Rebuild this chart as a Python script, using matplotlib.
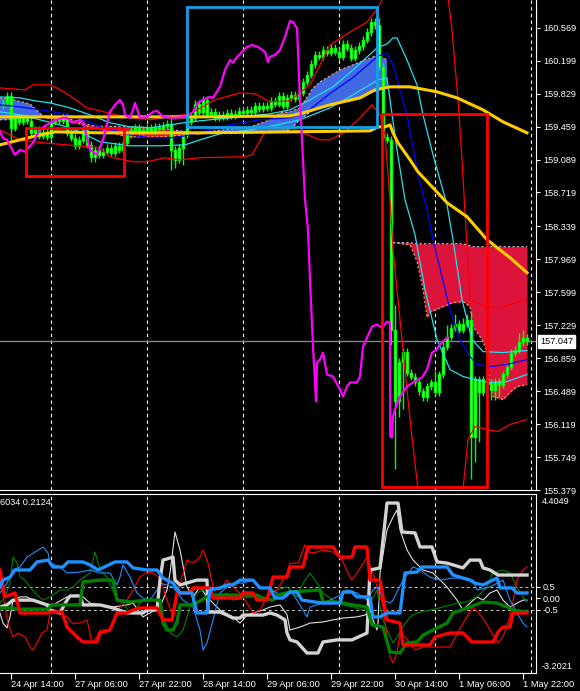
import numpy as np
import matplotlib.pyplot as plt
from matplotlib.patches import Rectangle
from matplotlib.transforms import blended_transform_factory

plt.rcParams['font.family'] = ['Liberation Sans', 'DejaVu Sans']

# H1 bars, bar 0 = 24 Apr 14:00
time_ticks = [0, 16, 32, 48, 64, 80, 96, 112, 128]
time_labels = ['24 Apr 14:00', '27 Apr 06:00', '27 Apr 22:00', '28 Apr 14:00', '29 Apr 06:00',
               '29 Apr 22:00', '30 Apr 14:00', '1 May 06:00', '1 May 22:00']
day_separators = [10, 34, 58, 82, 106, 130]

price_labels = ['160.569', '160.199', '159.829', '159.459', '159.089', '158.719', '158.339', '157.969',
                '157.599', '157.229', '156.859', '156.489', '156.119', '155.749', '155.379']
bid = 157.047
first_open = 159.70

closes = [159.725, 159.804, 159.445, 159.557, 159.512, 159.557, 159.523, 159.389, 159.422, 159.355,
          159.400, 159.344, 159.512, 159.546, 159.523, 159.568, 159.389, 159.333, 159.243, 159.310,
          159.422, 159.254, 159.120, 159.198, 159.142, 159.176, 159.221, 159.165, 159.243, 159.198,
          159.277, 159.366, 159.422, 159.445, 159.400, 159.422, 159.445, 159.411, 159.456, 159.434,
          159.467, 159.489, 159.198, 159.086, 159.221, 159.366, 159.512, 159.557, 159.714, 159.624,
          159.759, 159.602, 159.624, 159.557, 159.591, 159.568, 159.613, 159.579, 159.602, 159.636,
          159.613, 159.647, 159.624, 159.692, 159.658, 159.692, 159.669, 159.748, 159.714, 159.804,
          159.692, 159.781, 159.815, 159.770, 159.837, 159.961, 160.039, 160.162, 160.263, 160.241,
          160.319, 160.286, 160.342, 160.297, 160.241, 160.387, 160.342, 160.230, 160.319, 160.364,
          160.432, 160.521, 160.633, 160.600, 160.129, 159.344, 159.310, 157.180, 156.373, 156.821,
          156.933, 156.698, 156.653, 156.586, 156.485, 156.418, 156.541, 156.586, 156.474, 156.676,
          156.989, 157.102, 157.202, 157.247, 157.180, 157.247, 157.292, 155.969, 156.620, 156.474,
          156.620, 156.586, 156.507, 156.597, 156.563, 156.676, 156.765, 156.922, 156.956, 157.035,
          157.090, 157.047]
wick_high = {40: 159.557, 92: 160.68, 96: 157.46, 106: 156.71, 108: 157.068, 109: 157.236,
             111: 157.35, 113: 157.315, 114: 157.35, 115: 157.382, 127: 157.147, 128: 157.18}
wick_low = {0: 159.31, 20: 159.064, 21: 159.064, 40: 158.974, 41: 158.996, 43: 159.03,
            95: 157.012, 96: 155.61, 97: 156.194, 98: 156.283, 115: 155.498, 116: 155.689,
            117: 155.913, 120: 156.395, 121: 156.395, 122: 156.418}

# moving averages / bands, (bar, price)
ma_slow = [(-2.75, 159.568), (22.25, 159.568), (47.25, 159.568), (69.75, 159.579), (73, 159.613),
           (79.75, 159.703), (87.25, 159.781), (91, 159.871), (94.75, 159.905), (99.75, 159.905),
           (106.5, 159.849), (111.5, 159.781), (118, 159.647), (123, 159.512), (129, 159.389)]
ma_mid = [(-2.75, 159.254), (2.25, 159.310), (7.25, 159.366), (11, 159.400), (22.25, 159.389),
          (47.25, 159.389), (69.75, 159.400), (89.75, 159.411), (91.75, 159.456), (93.5, 159.456),
          (94.75, 159.478), (95.5, 159.389), (96.75, 159.277), (99.75, 159.086), (101.75, 158.951),
          (109, 158.604), (114, 158.447), (119, 158.189), (124.75, 157.987), (129, 157.819)]
bb_upper = [(-2.75, 159.893), (3.5, 159.871), (5.5, 159.927), (9.75, 159.927), (11.5, 159.893),
            (14.75, 159.804), (19, 159.669), (22.25, 159.636), (27.25, 159.579), (34.75, 159.535),
            (41, 159.579), (44.75, 159.602), (51, 159.759), (57.25, 159.837), (61, 159.826),
            (64.75, 159.736), (69.75, 159.748), (74.75, 159.927), (79.75, 160.375), (84.75, 160.521),
            (89, 160.633), (91.75, 160.790), (94, 161.0), (109, 161.0), (110.25, 160.544),
            (111.75, 159.759), (112.75, 159.086), (113.75, 158.301), (114.75, 157.516),
            (118.5, 157.438), (122.25, 157.427), (124.75, 157.460), (129, 157.516)]
bb_lower = [(-2.75, 159.422), (2.25, 159.310), (8, 159.277), (22.25, 159.221), (24.75, 159.120),
            (30.5, 159.064), (34, 159.064), (38.5, 159.109), (42.25, 159.086), (47.25, 159.109),
            (58, 159.120), (60.25, 159.142), (64, 159.445), (69.75, 159.445), (73, 159.389),
            (77.25, 159.310), (79.75, 159.310), (83.5, 159.400), (87.25, 159.557), (90.25, 159.703),
            (92.25, 159.591), (93.5, 159.366), (94.75, 158.638), (95.5, 158.077), (97.25, 157.292),
            (99.75, 156.171), (101.75, 155.386), (103.5, 155.05), (111, 155.05), (113, 155.386),
            (113.5, 155.610), (114.25, 155.947), (116, 156.092), (119, 156.059), (121.75, 156.036),
            (124.75, 156.115), (129, 156.171)]
env_upper = [(-2.75, 159.792), (2.25, 159.781), (6, 159.748), (9.75, 159.725), (14.75, 159.669),
             (19.75, 159.591), (24.75, 159.501), (29.75, 159.456), (34.75, 159.445), (39.75, 159.478),
             (44.75, 159.512), (49.75, 159.535), (54.75, 159.557), (59.75, 159.579), (64.75, 159.602),
             (69.75, 159.647), (74.75, 159.759), (80.5, 159.905), (85.5, 160.095), (91.5, 160.342),
             (94, 160.387), (95.5, 160.454), (96.5, 160.454), (99, 160.207), (101.5, 159.927),
             (103, 159.591), (105.5, 159.142), (109, 158.582), (110.5, 158.189), (112.75, 157.516),
             (115.25, 157.068), (118, 156.933), (123, 156.922), (129, 156.945)]
env_mid = [(-2.75, 159.703), (2.25, 159.680), (7.25, 159.647), (12.25, 159.613), (17.25, 159.557),
           (22.25, 159.456), (29.75, 159.366), (34.75, 159.333), (41, 159.333), (47.25, 159.389),
           (54.75, 159.478), (62.25, 159.535), (69.75, 159.557), (74, 159.624), (79.75, 159.830),
           (85.5, 160.010), (91.75, 160.250), (94, 160.286), (95.5, 160.151), (99, 159.591),
           (101.75, 158.918), (104, 158.526), (105.5, 158.189), (109.75, 157.404), (112.25, 157.068),
           (114.75, 156.877), (116.5, 156.788), (119.75, 156.765), (124, 156.788), (129, 156.844)]
env_lower = [(-2.75, 159.624), (2.25, 159.591), (7.25, 159.535), (12.25, 159.478), (17.25, 159.400),
             (22.25, 159.288), (29.75, 159.243), (37.25, 159.243), (43.5, 159.254), (47.25, 159.310),
             (52.25, 159.378), (59.75, 159.422), (66.5, 159.478), (72.25, 159.535), (79.75, 159.669),
             (85.5, 159.815), (91.75, 159.983), (94, 160.005), (94.75, 159.759), (96.5, 159.198),
             (98.5, 158.638), (101, 158.245), (103.5, 157.629), (106.5, 157.068), (109.75, 156.732),
             (113, 156.653), (119.25, 156.586), (124, 156.597), (129, 156.676)]

# cloud
cloud_x = [-2.75, -0.25, 4.75, 8.5, 13.5, 20.5, 29, 37.25, 47.25, 51, 59.75, 64.75, 67.25, 69.75,
           72.25, 75.5, 77.25, 82.25, 87.25, 91.75, 94]
span_a = [159.781, 159.770, 159.714, 159.557, 159.535, 159.445, 159.344, 159.344, 159.378, 159.411,
          159.456, 159.535, 159.613, 159.624, 159.669, 159.893, 159.961, 160.095, 160.185, 160.263, 160.207]
span_b = [159.535, 159.535, 159.546, 159.579, 159.557, 159.467, 159.456, 159.445, 159.378, 159.389,
          159.389, 159.389, 159.400, 159.422, 159.535, 159.647, 159.680, 159.736, 159.792, 159.871, 159.893]
cloud2_x = [95.5, 99.75, 101.5, 103, 104, 105, 108, 110.5, 113, 114.75, 115.5, 117.75, 119, 119.75,
            120.5, 123, 124.75, 126.5, 129]
span2_a = [158.156, 158.133, 157.943, 157.629, 157.315, 157.382, 157.438, 157.483, 157.494, 157.438,
           157.214, 157.068, 156.933, 156.541, 156.429, 156.395, 156.474, 156.541, 156.563]
span2_b = [158.156, 158.156, 158.144, 158.144, 158.144, 158.144, 158.144, 158.144, 158.144, 158.122,
           158.111, 158.111, 158.111, 158.111, 158.111, 158.111, 158.111, 158.111, 158.111]

osc_line = [(-2.75, 159.400), (-2, 159.333), (-1, 159.310), (1, 159.142), (2.25, 159.198), (3.5, 159.176),
            (5.5, 159.277), (6.5, 159.366), (7.75, 159.445), (9, 159.478), (10.25, 159.512),
            (11.5, 159.535), (13, 159.557), (14, 159.557), (15.25, 159.501), (17.25, 159.535),
            (18, 159.512), (19.75, 159.198), (21.5, 159.142), (23, 159.310), (24.75, 159.624),
            (26, 159.703), (27.25, 159.759), (28, 159.703), (28.5, 159.591), (29.75, 159.557),
            (30.5, 159.647), (31, 159.725), (31.75, 159.624), (32.25, 159.557), (34, 159.568),
            (35.5, 159.624), (36.5, 159.636), (38, 159.568), (40.5, 159.557), (44, 159.568),
            (45.5, 159.624), (46.75, 159.725), (48, 159.759), (49.75, 159.792), (50.5, 159.781),
            (52.25, 159.905), (53.5, 160.095), (54.75, 160.207), (55.5, 160.174), (56.5, 160.241),
            (57.75, 160.297), (59, 160.353), (60.25, 160.375), (61.75, 160.353), (63.5, 160.297),
            (64.25, 160.185), (64.75, 160.241), (66, 160.263), (67.25, 160.319), (68.5, 160.465),
            (69.75, 160.645), (70.5, 160.633), (71.5, 160.566), (72.25, 159.759), (73.5, 158.638),
            (74.25, 158.301), (74.75, 157.741), (75.5, 156.989), (76, 156.586), (76.25, 156.373),
            (76.5, 156.810), (77.25, 156.844), (78, 156.922), (79, 156.676), (80.5, 156.653),
            (82.25, 156.507), (83, 156.429), (84, 156.541), (84.75, 156.586), (86.5, 156.586),
            (87.25, 156.653), (88, 156.989), (90.25, 157.214), (91.5, 157.236), (92.75, 157.202),
            (94, 157.270), (94.75, 157.259), (94.8, 155.980), (95.25, 155.969), (95.5, 156.205),
            (96, 156.283), (97.25, 156.429), (99, 156.541), (100.5, 156.586), (102.75, 156.642),
            (104, 156.732), (105.25, 156.922), (106.5, 156.956), (107.25, 157.012), (108.5, 157.068),
            (109.25, 157.090)]

# boxes: bar from, bar to, price low, price high
box_red1 = (3.75, 28.25, 158.907, 159.445)
box_blue = (44.0, 91.5, 159.456, 160.80)
box_red2 = (92.75, 119.0, 155.41, 159.602)

# sub-window
sub_top, sub_bottom = 4.4049, -3.2021
blue_slow = [(-2.75, 0.50), (-2, 0.80), (-0.25, 0.93), (1, 1.24), (4.75, 1.24), (6.5, 1.59), (9.25, 1.67),
             (10.5, 1.37), (13, 1.37), (14.25, 1.59), (18, 1.59), (19.75, 1.46), (21.75, 1.24), (26, 1.59),
             (29, 1.59), (30.5, 1.33), (34, 1.24), (36.5, 1.24), (38, 0.89), (40.5, 0.67), (42.25, 0.24),
             (45.25, 0.24), (46.5, -0.63), (49, -0.63), (49.75, 0.37), (52.25, 0.46), (54, 0.59),
             (55.5, 0.59), (57.25, 0.80), (60.5, 0.80), (62.25, 0.46), (64.75, 0.46), (66, 0.02),
             (68, 0.02), (69.75, 0.28), (71.5, 0.28), (72.75, -0.07), (78, -0.20), (82.25, -0.20),
             (83, 0.28), (85.25, 0.28), (86.5, 0.07), (89.75, 0.07), (90.5, -0.80), (92.25, -0.80),
             (94, -0.63), (97.25, -0.63), (98.5, 1.11), (101.5, 1.15), (102.75, 1.37), (109, 1.37),
             (110.5, 1.02), (113, 0.89), (114.75, 0.80), (116, 0.67), (118, 0.59), (121.5, 0.89),
             (122.25, 0.46), (125.25, 0.46), (126.5, 0.24), (129, 0.24)]
red_slow = [(-2.75, 1.24), (-2, 0.50), (-1.5, 0.07), (1, 0.24), (1.75, -0.28), (2.25, -0.63), (9, -0.63),
            (9.75, -0.59), (12.75, -0.59), (14, -1.24), (14.75, -1.37), (16.5, -1.67), (18, -1.89),
            (21.5, -1.89), (22.25, -1.50), (24.75, -1.37), (26.5, -0.63), (29, -0.63), (30.5, -0.50),
            (32.25, -0.41), (36.5, -0.41), (38, -0.93), (40.25, -0.93), (41.5, 0.24), (44.75, 0.24),
            (45.5, 0.46), (49.75, 0.46), (50.5, 0.02), (57.25, 0.02), (58, 0.24), (60.5, 0.24),
            (61.5, -0.07), (64, -0.07), (64.75, 0.46), (65.5, 0.93), (69, 0.93), (69.75, 1.37),
            (73, 1.37), (74.25, 2.24), (80.5, 2.24), (82.25, 1.80), (85.25, 1.80), (86, 2.24),
            (89, 2.24), (89.75, 0.80), (92.25, 0.80), (94, -0.93), (97.25, -1.07), (98, -2.02),
            (104.75, -2.02), (106, -1.67), (109.75, -1.50), (113, -1.50), (115.25, -1.89),
            (120.5, -1.89), (121.75, -1.46), (123, -1.24), (124.75, -1.24), (125.5, -0.63), (129, -0.63)]
green_slow = [(-2.75, -0.41), (0.25, -0.41), (1.5, -0.46), (9.25, -0.46), (10.25, -0.28), (17.25, -0.28),
              (18, 0.72), (22.25, 0.80), (25.5, 0.80), (26.5, -0.07), (29.75, -0.15), (34, -0.07),
              (37.25, -0.07), (38, -1.07), (39, -1.37), (40.5, -1.37), (41.5, -1.02), (42.25, -0.28),
              (45.5, -0.28), (49.75, 0.15), (61.5, 0.15), (63, 0.02), (65.5, -0.07), (66.5, 0.15),
              (69.75, 0.28), (77.25, 0.37), (78, -0.15), (81.5, -0.15), (85.5, -0.28), (89, -0.37),
              (90.25, -1.15), (93, -1.24), (94.75, -2.33), (97.25, -2.37), (99, -1.93), (101.5, -1.89),
              (103, -1.59), (105.5, -1.37), (109, -1.07), (110.5, -0.63), (114.75, -0.37), (118, -0.15),
              (121.5, -0.20), (124, -0.37), (125.5, -0.50), (129, -0.59)]
white_slow = [(-2.75, -0.37), (-1, -0.28), (0.5, -0.07), (5.5, -0.07), (9, -0.28), (9.75, -0.50),
              (12.25, -0.63), (14, -0.07), (14.75, 0.11), (17.25, 0.11), (18, -0.28), (22.25, -0.28),
              (25.5, -0.41), (29, -0.63), (33, -0.63), (34, -0.50), (36.5, -0.50), (37.25, 0.80),
              (38, 1.67), (40.5, 1.80), (41, 0.80), (42.25, 0.59), (46.5, 0.80), (49, 0.80),
              (49.25, -0.59), (52.25, -0.59), (54, -0.72), (55.5, -0.85), (57.25, -0.85), (58, -0.72),
              (63, -0.72), (64.75, -0.63), (66.5, -0.72), (68.5, -0.93), (69, -1.50), (69.75, -1.80),
              (71.5, -1.89), (74, -2.37), (76.75, -2.37), (78, -1.89), (81.5, -1.80), (85.25, -1.80),
              (89, -1.50), (89.75, 1.24), (92.25, 1.33), (94, 4.15), (96.75, 4.15), (97.75, 2.89),
              (101, 2.85), (102.25, 2.24), (105.25, 2.24), (106.5, 1.59), (109, 1.54), (113, 1.33),
              (114.75, 1.67), (117.25, 1.67), (118, 1.33), (119.75, 1.24), (121.75, 1.02), (129, 1.02)]
blue_fast = [(-2.75, 0.24), (-1, 0.67), (0.5, 1.24), (2.25, 1.37), (4, 1.80), (6, 2.02), (8, 2.24),
             (9.25, 1.98), (9.75, 1.54), (12.25, 1.37), (14, 1.11), (17.25, 1.15), (19.75, 1.24),
             (22.25, 1.11), (24.75, 1.11), (26.5, 0.59), (27.25, 0.93), (28, 1.46), (29.75, 0.93),
             (31.5, 0.24), (33, 0.02), (34.75, -0.07), (36.5, 0.37), (37.25, 0.67), (40.5, 0.50),
             (43, -0.07), (45.5, -0.37), (47.25, -1.37), (48, -2.24), (49, -1.93), (50.5, -0.93),
             (52.25, 0.24), (54, 0.50), (55.5, 0.67), (58, 0.67), (60.5, 0.80), (62.25, 0.50),
             (64, 0.46), (66.5, 0.24), (69, 0.07), (69.75, 0.37), (71.5, -0.07), (74, -0.80),
             (74.75, -0.37), (78, -0.20), (81.5, 0.07), (84, 0.37), (86.5, 0.24), (89, -0.07),
             (90.5, 0.37), (91.75, 0.50), (93, -0.07), (94.75, -0.20), (95.5, -0.07), (96.75, 0.37),
             (98, 0.80), (100.5, 1.37), (102.25, 1.24), (104.75, 0.93), (107.25, 0.80), (110.5, 0.89),
             (114, 0.89), (115.5, 0.80), (116.5, 0.37), (119.75, 0.50), (123, 0.80), (124.75, -0.07),
             (126.5, -0.63), (128, -1.07), (129, -1.24)]
red_fast = [(-2.75, 0.93), (-1.5, -0.37), (-0.75, -1.07), (0.5, -1.67), (1.75, -1.50), (3.5, -1.67),
            (4.75, -2.11), (5.5, -2.24), (6.5, -1.93), (7.75, -1.50), (9, -1.37), (9.75, -0.63),
            (11.5, -0.63), (14, -0.80), (15.25, -1.07), (17.25, -1.07), (19, -0.93), (20.25, -1.93),
            (21.5, -1.67), (22.25, -1.37), (24.75, -1.37), (26.5, -0.50), (29, -0.07), (30.5, 0.37),
            (32.25, 0.93), (34, 1.15), (35.5, 1.11), (37.25, 0.89), (39, -0.07), (40.5, -0.80),
            (42.25, 0.67), (44, 1.67), (45.5, 1.54), (47.25, 1.80), (48, 2.11), (49.25, 1.54),
            (50.5, 0.50), (52.25, 0.37), (54, 0.80), (55.5, 0.50), (57.25, 0.24), (59, -0.20),
            (60.5, -0.63), (62.25, -0.50), (64, 0.07), (66.5, 0.37), (69, 1.11), (69.75, 1.54),
            (71.75, 1.54), (73.5, 2.33), (74.75, 1.98), (76.5, 2.02), (78, 2.11), (80.5, 2.02),
            (82.75, 1.67), (84.25, 1.11), (85.25, 0.80), (86.5, 1.11), (89, 1.80), (90.5, 1.11),
            (91.75, 0.37), (93, -0.37), (94.75, -2.54), (95.5, -2.80), (96.5, -2.37), (97.25, -1.50),
            (98.5, -1.67), (99.75, -1.93), (101, -2.24), (103, -2.11), (109.75, -2.11), (113, -1.07),
            (115.5, -0.37), (117.75, -0.80), (119.75, -1.37), (121.75, -1.93), (123, -1.67),
            (124.75, -0.80), (126.5, 0.80), (128, 1.24), (129, 1.37)]
green_fast = [(-2.75, -0.20), (-1.5, 0.07), (-0.25, 0.67), (0.5, 1.80), (1.5, 1.54), (2.25, 0.93),
              (3.5, 0.80), (4.75, 0.50), (6.5, 0.15), (8, -0.07), (9.75, 0.07), (12.25, 0.37), (14, 0.37),
              (15.5, 0.50), (17.25, 0.80), (19.75, 1.11), (21, 2.02), (22.25, 1.24), (24, 0.93),
              (26.5, -0.07), (28, -0.20), (29.75, -0.63), (31.5, -0.37), (33, -0.07), (36.5, -0.07),
              (38, -0.80), (39.75, -1.50), (41.5, -1.67), (43, -1.37), (44.75, -0.37), (46.5, 0.24),
              (48, 0.37), (49.75, 0.37), (51.5, 0.07), (54, 0.24), (55.5, -0.07), (58, 0.02),
              (60.5, 0.07), (63, -0.07), (64.75, 0.24), (66.5, 0.37), (69, 0.50), (71.5, 0.07),
              (73, 0.67), (74.75, 1.11), (76.5, 0.67), (78, 0.24), (80.5, -0.07), (83, -0.28),
              (85.5, -0.37), (88, -0.50), (89.75, -0.20), (91.5, 0.37), (92.75, -0.80), (94, -1.37),
              (95.5, -1.93), (96.5, -1.67), (98, -1.24), (99.75, -0.80), (101.5, -0.63), (104.75, -0.50),
              (108, -0.37), (111.5, -0.20), (114, -0.15), (116.5, 0.07), (119, 0.50), (120.5, 1.11),
              (123, 1.24), (124.75, 1.11), (126.5, 0.50), (128, 0.07), (129, -0.15)]
white_fast = [(-2.75, -0.63), (-2, -1.07), (-1, -1.28), (-0.25, -0.80), (0.5, -0.07), (2.25, 0.07),
              (4, 0.07), (5.5, -0.07), (8, -0.20), (10.5, -0.28), (14, 0.07), (16.5, 0.15), (18, 0.07),
              (19.75, -0.20), (22.25, -0.28), (25.5, -0.37), (29, -0.28), (30.5, -0.20), (33, -0.80),
              (34.75, -0.63), (37.25, -0.37), (39, 0.37), (39.75, 1.11), (41, 2.89), (42.25, 2.11),
              (44, 0.50), (45.5, 0.07), (47.25, 0.50), (49, 0.07), (50.5, -0.20), (52.25, -0.50),
              (55.5, -0.80), (57.25, -1.07), (59, -0.72), (60.5, -0.63), (63, -0.50), (64.75, -0.37),
              (67.25, -0.28), (69, -0.70), (69.75, -1.37), (72.25, -1.24), (74.75, -1.07), (78, -1.02),
              (80.5, -0.93), (83, -0.85), (86.5, -0.80), (88.5, -0.72), (89.75, -0.50), (90.5, -0.93),
              (91.5, -1.37), (91.75, -1.07), (92.25, 1.11), (94, 2.98), (95.5, 3.54), (96.5, 3.85),
              (97.25, 2.98), (99, 2.11), (100.5, 1.67), (103, 1.24), (105.5, 1.11), (109, 0.50),
              (111.5, -0.07), (113, -0.50), (114.75, -0.20), (116.5, 0.07), (118, -0.07), (119.75, 0.24),
              (121.5, 0.37), (123, -0.07), (124.75, -0.37), (126.5, -0.20), (128, -0.07), (129, -0.07)]

# ---------------------------------------------------------------
fig = plt.figure(figsize=(5.8, 6.91), dpi=100, facecolor='black')
ax = fig.add_axes([0, 1 - 490 / 691, 536 / 580, 490 / 691], facecolor='black')
ax2 = fig.add_axes([0, 1 - 673 / 691, 536 / 580, 179 / 691], facecolor='black')

xmin, xmax = -2.75, 131.25
for a in (ax, ax2):
    a.set_xlim(xmin, xmax)
    for s in a.spines.values():
        s.set_visible(False)
    for b in day_separators:
        a.axvline(b, color='white', ls=(0, (3, 3)), lw=0.8, zorder=0.5)
ax.set_ylim(155.386, 160.880)
ax2.set_ylim(-3.239, 4.543)

for name in ('right', 'bottom'):
    ax.spines[name].set_visible(True)
    ax.spines[name].set_color('white')
for name in ('right', 'bottom', 'top'):
    ax2.spines[name].set_visible(True)
    ax2.spines[name].set_color('white')

# cloud
cx, sa, sb = np.array(cloud_x), np.array(span_a), np.array(span_b)
ax.fill_between(cx, sa, sb, where=sa >= sb, interpolate=True, color='#4169E1', lw=0, zorder=1)
ax.fill_between(cx, sa, sb, where=sa < sb, interpolate=True, color='#DC143C', lw=0, zorder=1)
ax.plot(cx, sa, color='#F4A460', ls=(0, (2, 2)), lw=0.8, zorder=1.2)
ax.plot(cx, sb, color='#D8BFD8', ls=(0, (2, 2)), lw=0.8, zorder=1.2)
ax.fill_between(cloud2_x, span2_a, span2_b, color='#DC143C', lw=0, zorder=1)
ax.plot(cloud2_x, span2_a, color='#F4A460', ls=(0, (2, 2)), lw=0.8, zorder=1.2)
ax.plot(cloud2_x, span2_b, color='#D8BFD8', ls=(0, (2, 2)), lw=0.8, zorder=1.2)

# bid line
ax.axhline(bid, color='#778899', lw=1, zorder=0.6)

# candles
bars = np.arange(-2, -2 + len(closes))
opens = [first_open] + closes[:-1]
for b, o, c in zip(bars, opens, closes):
    hi = wick_high.get(b, max(o, c) + 0.04)
    lo = wick_low.get(b, min(o, c) - 0.04)
    ax.vlines(b, lo, hi, color='#00FF00', lw=1.0, zorder=3)
ax.bar(bars, np.abs(np.array(closes) - np.array(opens)), bottom=np.minimum(opens, closes),
       width=0.72, color='#c8ffc8', edgecolor='#00FF00', lw=1.0, zorder=3.1)

def draw(axis, pts, **kw):
    xs, ys = zip(*pts)
    axis.plot(xs, ys, **kw)

draw(ax, bb_upper, color='#FF0000', lw=0.9, zorder=4)
draw(ax, bb_lower, color='#FF0000', lw=0.9, zorder=4)
draw(ax, env_upper, color='#22E0EE', lw=0.9, zorder=4)
draw(ax, env_lower, color='#22E0EE', lw=0.9, zorder=4)
draw(ax, env_mid, color='#0000FF', lw=0.9, zorder=4)
draw(ax, ma_slow, color='#FFCC00', lw=2.2, zorder=5)
draw(ax, ma_mid, color='#FFCC00', lw=2.2, zorder=5)
draw(ax, osc_line, color='#FF00FF', lw=1.6, zorder=5)

for (b0, b1, p0, p1), col in ((box_red1, '#FF0000'), (box_blue, '#14A0E6'), (box_red2, '#FF0000')):
    ax.add_patch(Rectangle((b0, p0), b1 - b0, p1 - p0, fill=False, ec=col, lw=2, zorder=6))

# price axis
ax.set_xticks([])
ax.yaxis.tick_right()
ax.set_yticks([float(v) for v in price_labels])
ax.set_yticklabels(price_labels)
ax.tick_params(axis='y', colors='white', labelsize=6.6, length=3, pad=2, width=0.8)
tr = blended_transform_factory(ax.transAxes, ax.transData)
ax.text(1.008, bid, f'{bid:.3f}', transform=tr, ha='left', va='center', fontsize=6.6, color='black',
        bbox=dict(boxstyle='square,pad=0.2', fc='white', ec='white'), clip_on=False, zorder=10)
ax.plot([1.002, 1.002], [1 - 50 / 490, 1 - 7 / 490], transform=ax.transAxes, color='#0000FF',
        lw=1.2, clip_on=False)

# sub window
ax2.axhline(0.5, color='#c8c8c8', ls=(0, (3, 3)), lw=0.7, zorder=0.5)
ax2.axhline(-0.5, color='#c8c8c8', ls=(0, (3, 3)), lw=0.7, zorder=0.5)
draw(ax2, white_fast, color='#E0E0E0', lw=0.8, zorder=2)
draw(ax2, green_fast, color='#008000', lw=0.8, zorder=2)
draw(ax2, red_fast, color='#FF0000', lw=0.8, zorder=2)
draw(ax2, blue_fast, color='#1E90FF', lw=0.8, zorder=2)
draw(ax2, white_slow, color='#D3D3D3', lw=2.4, zorder=3)
draw(ax2, green_slow, color='#008000', lw=2.4, zorder=3)
draw(ax2, red_slow, color='#FF0000', lw=2.4, zorder=3)
draw(ax2, blue_slow, color='#1E90FF', lw=2.4, zorder=3)

ax2.yaxis.tick_right()
ax2.set_yticks([0.5, 0.0, -0.5])
ax2.set_yticklabels(['0.5', '0.00', '-0.5'])
ax2.tick_params(axis='y', colors='white', labelsize=6.6, length=3, pad=2, width=0.8)
ax2.text(1.01, 0.985, f'{sub_top:.4f}', transform=ax2.transAxes, ha='left', va='top',
         fontsize=6.6, color='white', clip_on=False)
ax2.text(1.01, 0.012, f'{sub_bottom:.4f}', transform=ax2.transAxes, ha='left', va='bottom',
         fontsize=6.6, color='white', clip_on=False)
ax2.text(0.0, 0.975, '6034 0.2124', transform=ax2.transAxes, ha='left', va='top',
         fontsize=6.6, color='white')

ax2.set_xticks(time_ticks)
ax2.set_xticklabels(time_labels)
for lbl in ax2.get_xticklabels():
    lbl.set_horizontalalignment('left')
ax2.tick_params(axis='x', colors='white', labelsize=6.7, length=4, pad=1, width=0.8)

fig.savefig('out.png', dpi=100, facecolor='black')
